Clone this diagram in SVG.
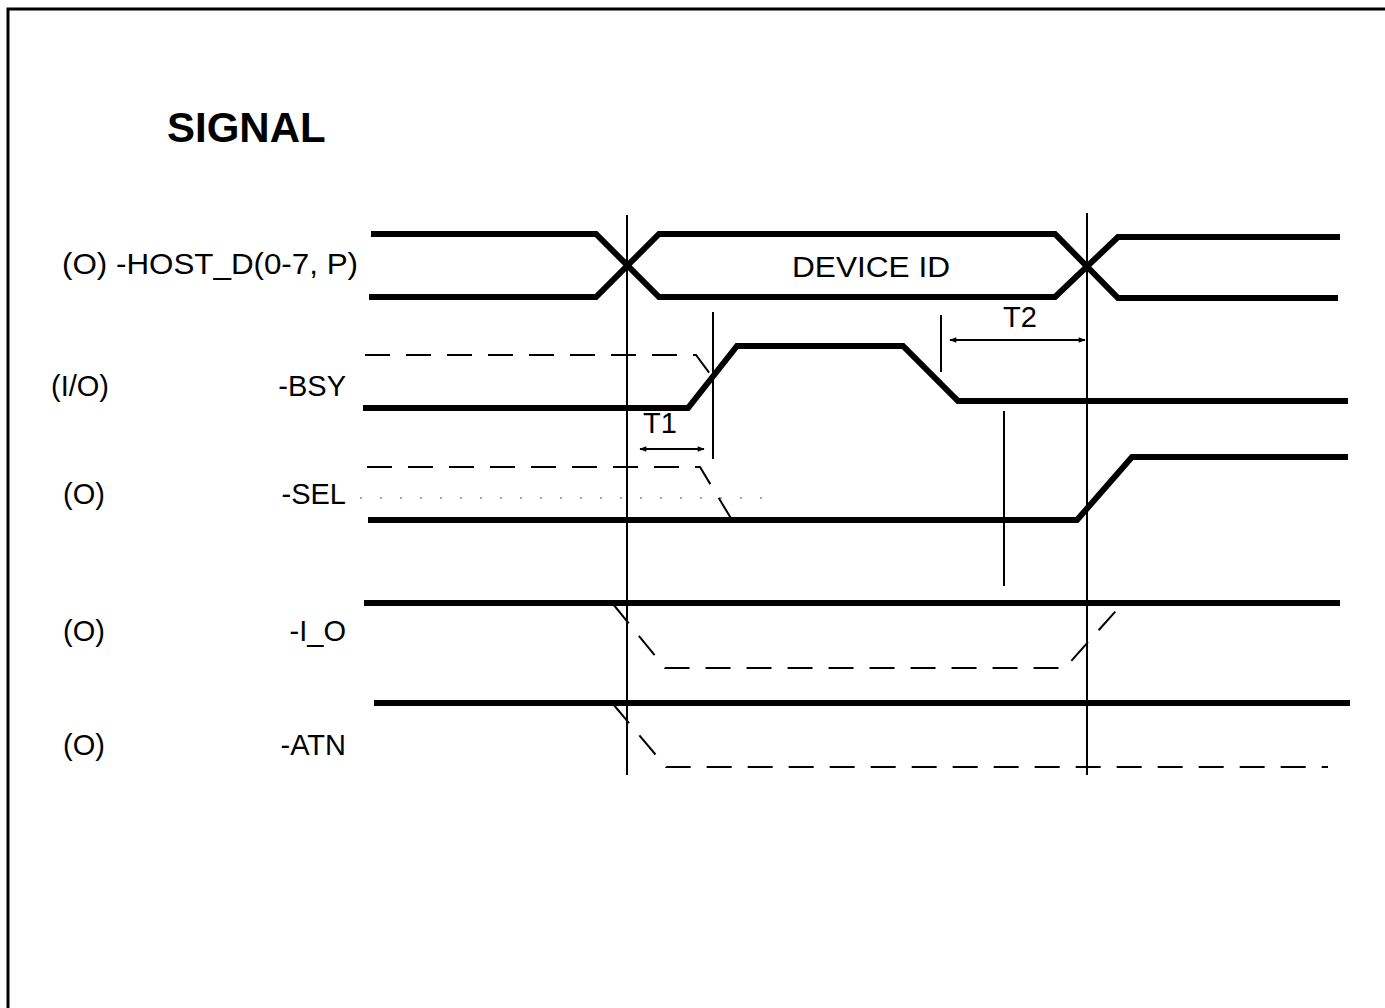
<svg xmlns="http://www.w3.org/2000/svg" width="1385" height="1008" viewBox="0 0 1385 1008">
  <defs>
    <style>
      .lbl { font-family: "Liberation Sans", Arial, sans-serif; font-size: 29px; fill: #000; }
      .title { font-family: "Liberation Sans", Arial, sans-serif; font-size: 42px; font-weight: bold; fill: #000; }
      .sig { fill: none; stroke: #000; stroke-width: 6; stroke-linejoin: miter; }
      .dash { fill: none; stroke: #000; stroke-width: 2; stroke-dasharray: 25 16; }
      .thin { fill: none; stroke: #000; stroke-width: 2; }
      .arr { fill: none; stroke: #000; stroke-width: 2; marker-start: url(#ah); marker-end: url(#ah); }
    </style>
    <marker id="ah" viewBox="0 0 10 10" refX="9" refY="5" markerWidth="9" markerHeight="7" markerUnits="userSpaceOnUse" orient="auto-start-reverse">
      <path d="M0,1 L10,5 L0,9 Z" fill="#000"/>
    </marker>
  </defs>
  <rect width="1385" height="1008" fill="#fff"/>
  <rect x="8" y="9" width="1400" height="1020" fill="none" stroke="#000" stroke-width="3"/>

  <text class="title" x="167" y="142">SIGNAL</text>

  <g id="host_d">
    <text class="lbl" x="62" y="274" textLength="296" lengthAdjust="spacingAndGlyphs">(O) -HOST_D(0-7, P)</text>
    <path class="sig" d="M371,234 L596,234 L659,297 L1055,297 L1118,237 L1340,237"/>
    <path class="sig" d="M369,297 L596,297 L659,234 L1055,234 L1118,298 L1338,298"/>
    <text class="lbl" x="792" y="277" textLength="158" lengthAdjust="spacingAndGlyphs">DEVICE ID</text>
  </g>

  <g id="bsy">
    <text class="lbl" x="51" y="396">(I/O)</text>
    <text class="lbl" x="346" y="396" text-anchor="end">-BSY</text>
    <path class="dash" d="M365,355 L696,355 L713,378"/>
    <path class="sig" d="M363,408 L688,408 L737,346 L903,346 L958,401 L1348,401"/>
  </g>

  <g id="sel">
    <text class="lbl" x="63" y="504">(O)</text>
    <text class="lbl" x="346" y="504" text-anchor="end">-SEL</text>
    <path d="M360,498 L770,498" fill="none" stroke="#888" stroke-width="1.5" stroke-dasharray="2 18"/>
    <path class="dash" d="M367,467 L700,467 L732,520"/>
    <path class="sig" d="M368,520 L1077,520 L1132,457 L1348,457"/>
  </g>

  <g id="i_o">
    <text class="lbl" x="63" y="641">(O)</text>
    <text class="lbl" x="346" y="641" text-anchor="end">-I_O</text>
    <path class="sig" d="M364,603 L1340,603"/>
    <path class="dash" d="M613,604 L665,668 L1065,668 L1122,604"/>
  </g>

  <g id="atn">
    <text class="lbl" x="63" y="755">(O)</text>
    <text class="lbl" x="346" y="755" text-anchor="end">-ATN</text>
    <path class="sig" d="M374,703 L1350,703"/>
    <path class="dash" d="M613,704 L666,767 L1328,767"/>
  </g>

  <g id="connectors">
    <line class="thin" x1="627" y1="215" x2="627" y2="775"/>
    <line class="thin" x1="1087" y1="213" x2="1087" y2="775"/>
    <line class="thin" x1="713" y1="312" x2="713" y2="459"/>
    <line class="thin" x1="941" y1="315" x2="941" y2="372"/>
    <line class="thin" x1="1004" y1="411" x2="1004" y2="586"/>
    <line class="arr" x1="640" y1="449" x2="704" y2="449"/>
    <line class="arr" x1="950" y1="340" x2="1085" y2="340"/>
  </g>

  <g id="t1">
    <text class="lbl" x="643" y="433">T1</text>
  </g>
  <g id="t2">
    <text class="lbl" x="1003" y="327">T2</text>
  </g>
</svg>
